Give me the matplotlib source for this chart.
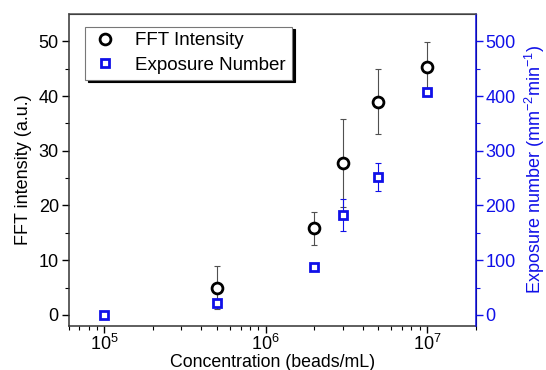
import numpy as np
import matplotlib.pyplot as plt

plt.rcParams['font.family'] = ['Liberation Sans', 'DejaVu Sans']
plt.rcParams['mathtext.fontset'] = 'custom'
plt.rcParams['mathtext.rm'] = 'Liberation Sans'
plt.rcParams['mathtext.it'] = 'Liberation Sans'
plt.rcParams['mathtext.default'] = 'regular'

# FFT intensity (left axis)
conc_fft = [5e5, 2e6, 3e6, 5e6, 1e7]
fft = [5.0, 15.8, 27.8, 39.0, 45.4]
fft_err = [4.0, 3.0, 8.1, 6.0, 4.4]

# exposure number (right axis)
conc_exp = [1e5, 5e5, 2e6, 3e6, 5e6, 1e7]
expo = [0, 21, 88, 183, 252, 408]
expo_err = [3, 3, 5, 29, 25, 5]

blue = '#1010e8'
fs = 13

fig = plt.figure(figsize=(5.46, 3.70), dpi=100)
ax = fig.add_axes([0.1256, 0.1195, 0.7454, 0.8425])
ax2 = ax.twinx()

ax.errorbar(conc_fft, fft, yerr=fft_err, fmt='none', ecolor='#505050',
            elinewidth=0.8, capsize=2.5, capthick=0.8, zorder=2)
h1, = ax.plot(conc_fft, fft, 'o', ms=7.8, mfc='white', mec='black', mew=2,
              zorder=3, label='FFT Intensity')

ax2.errorbar(conc_exp, expo, yerr=expo_err, fmt='none', ecolor=blue,
             elinewidth=0.8, capsize=2.5, capthick=0.8, zorder=2)
h2, = ax2.plot(conc_exp, expo, 's', ms=6, mfc='white', mec=blue, mew=2,
               zorder=3, label='Exposure Number')

ax.set_xscale('log')
ax.set_xlim(6e4, 2e7)
ax.set_ylim(-2, 55)
ax2.set_ylim(-20, 550)
ax.set_yticks([0, 10, 20, 30, 40, 50])
ax.set_yticks(np.arange(5, 55, 10), minor=True)
ax2.set_yticks([0, 100, 200, 300, 400, 500])
ax2.set_yticks(np.arange(50, 550, 100), minor=True)

ax.tick_params(axis='both', which='major', labelsize=fs, length=5, width=1, direction='out')
ax.tick_params(axis='both', which='minor', length=3, width=0.8, direction='out')
ax.tick_params(axis='x', which='major', pad=1)
ax.tick_params(axis='y', which='major', pad=2)
ax2.tick_params(axis='y', which='major', labelsize=fs, length=5, width=1, colors=blue,
                direction='out', pad=2)
ax2.tick_params(axis='y', which='minor', length=3, width=0.8, colors=blue, direction='out')

for sp in ['left', 'bottom']:
    ax.spines[sp].set_color('#333333')
    ax.spines[sp].set_linewidth(1.1)
ax2.spines['top'].set_color('#555555')
ax2.spines['top'].set_linewidth(1.1)
ax2.spines['right'].set_color(blue)
ax2.spines['right'].set_linewidth(1.1)
ax2.spines['left'].set_visible(False)
ax2.spines['bottom'].set_visible(False)

ax.set_xlabel('Concentration (beads/mL)', fontsize=12.8)
ax.xaxis.set_label_coords(0.5, -0.092)
ax.set_ylabel('FFT intensity (a.u.)', fontsize=fs, labelpad=5)
ax2.set_ylabel('Exposure number (mm$^{-2}$min$^{-1}$)', fontsize=fs, color=blue, labelpad=5)

leg = ax.legend([h1, h2], ['FFT Intensity', 'Exposure Number'], loc='upper left',
                bbox_to_anchor=(0.04, 0.96), fontsize=13.5, fancybox=False,
                edgecolor='#777777', framealpha=1, borderpad=0.3, handletextpad=0.8,
                handlelength=1.6, labelspacing=0.4, borderaxespad=0,
                shadow={'color': 'black', 'alpha': 1})
leg.get_frame().set_linewidth(0.8)
leg.set_zorder(10)

fig.savefig('out.png', dpi=100)
